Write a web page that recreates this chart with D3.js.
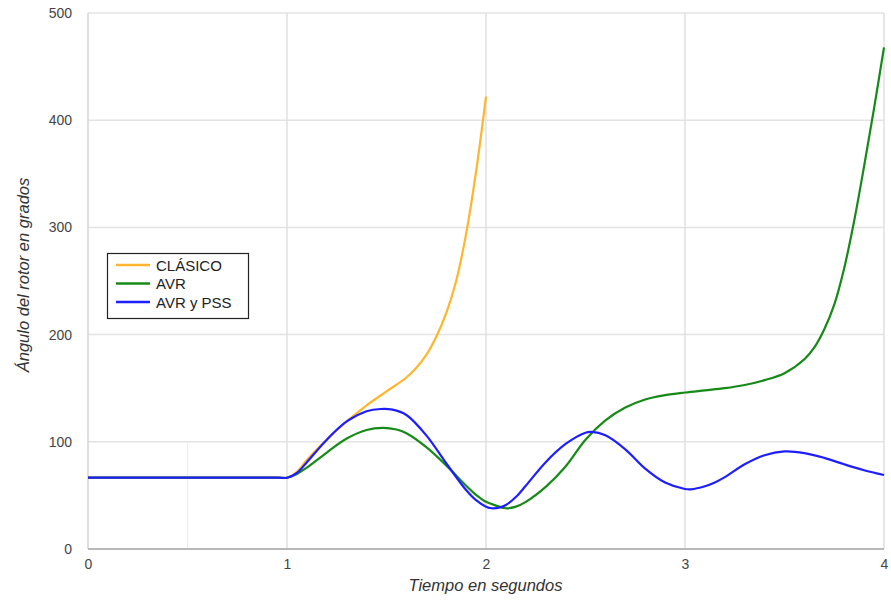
<!DOCTYPE html>
<html>
<head>
<meta charset="utf-8">
<script src="https://cdn.jsdelivr.net/npm/d3@7"></script>
<style>
  html, body { margin: 0; padding: 0; background: #fff; }
  svg { display: block; font-family: "Liberation Sans", Arial, sans-serif; }
</style>
</head>
<body>
<svg id="chart" width="891" height="602"></svg>
<script>
// Rotor angle (degrees) versus time (s) for three excitation setups
const clasicoT = [0, 0.95, 1, 1.05, 1.1, 1.2, 1.3, 1.4, 1.5, 1.6, 1.65, 1.7, 1.75, 1.8, 1.85, 1.9, 1.95, 2.0];
const clasicoV = [66.5, 66.5, 66.5, 72, 83, 102, 119, 134, 147, 160, 169, 181, 198, 220, 250, 294, 352, 422];

const avrT = [0, 0.95, 1, 1.05, 1.1, 1.2, 1.3, 1.4, 1.48, 1.55, 1.6, 1.7, 1.8, 1.9, 1.95, 2.0, 2.05, 2.1, 2.15, 2.2, 2.3, 2.4, 2.5, 2.6, 2.7, 2.8, 2.9, 3.0, 3.1, 3.2, 3.3, 3.4, 3.5, 3.6, 3.65, 3.7, 3.75, 3.8, 3.85, 3.9, 3.95, 4.0];
const avrV = [66.5, 66.5, 66.5, 70, 76, 90, 103, 111, 113, 111.5, 108, 95, 78, 59, 50.5, 44, 40.5, 38, 39.5, 44, 58, 77, 102, 120, 132, 139.5, 143.5, 146, 148, 150, 153, 157.5, 164, 177, 188, 205, 228, 262, 306, 357, 411, 468];

const pssT = [0, 0.95, 1, 1.05, 1.1, 1.2, 1.3, 1.4, 1.47, 1.53, 1.6, 1.7, 1.8, 1.9, 1.95, 2.0, 2.03, 2.07, 2.1, 2.15, 2.2, 2.3, 2.4, 2.5, 2.53, 2.6, 2.7, 2.8, 2.9, 3.0, 3.03, 3.1, 3.15, 3.2, 3.3, 3.4, 3.5, 3.6, 3.7, 3.8, 3.9, 4.0];
const pssV = [66.5, 66.5, 66.5, 71, 81, 102, 119, 128.5, 130.6, 130, 125, 106, 80, 55, 45.5, 39.5, 38, 38.8, 41, 48.5, 59, 81, 98, 108.5, 109.2, 106, 93, 75, 62, 56, 55.7, 58.5, 62, 67, 79, 87.5, 91, 89.5, 85, 79, 73.5, 69];

const seriesNames = ["CLÁSICO", "AVR", "AVR y PSS"];
const seriesColors = ["#FFB52C", "#168A16", "#1E1EFF"];
const xTicks = [0, 1, 2, 3, 4];
const yTicks = [0, 100, 200, 300, 400, 500];

const series = [
  { name: seriesNames[0], color: seriesColors[0], t: clasicoT, v: clasicoV },
  { name: seriesNames[1], color: seriesColors[1], t: avrT, v: avrV },
  { name: seriesNames[2], color: seriesColors[2], t: pssT, v: pssV }
];

const svg = d3.select("#chart");
const plotL = 88, plotR = 884, plotT = 13, plotB = 549;

const x = d3.scaleLinear().domain([0, 4]).range([plotL, plotR]);
const y = d3.scaleLinear().domain([0, 500]).range([plotB, plotT]);

// gridlines
const grid = svg.append("g");
grid.selectAll("line.h").data(yTicks.slice(1)).join("line")
  .attr("x1", plotL).attr("x2", plotR)
  .attr("y1", d => y(d)).attr("y2", d => y(d))
  .attr("stroke", "#e3e3e3").attr("stroke-width", 1.5);
grid.selectAll("line.v").data(xTicks.slice(1)).join("line")
  .attr("x1", d => x(d)).attr("x2", d => x(d))
  .attr("y1", plotT).attr("y2", plotB)
  .attr("stroke", "#e0e0e0").attr("stroke-width", 1.5);
// short minor grid segment at t = 0.5
grid.append("line")
  .attr("x1", x(0.5)).attr("x2", x(0.5))
  .attr("y1", y(100)).attr("y2", plotB)
  .attr("stroke", "#ececec").attr("stroke-width", 1.2);

// axes frame
svg.append("line").attr("x1", plotL).attr("x2", plotL).attr("y1", plotT).attr("y2", plotB)
  .attr("stroke", "#d4d4d4").attr("stroke-width", 1.5);
svg.append("line").attr("x1", plotL).attr("x2", plotR).attr("y1", plotB).attr("y2", plotB)
  .attr("stroke", "#b8b8b8").attr("stroke-width", 2);

// tick labels via axis generators
const yAxis = d3.axisLeft(y).tickValues(yTicks).tickSize(0).tickPadding(16).tickFormat(d3.format("d"));
const gy = svg.append("g").attr("transform", `translate(${plotL},0)`).call(yAxis);
gy.select(".domain").remove();
gy.selectAll("text").attr("font-size", 14).attr("fill", "#444").attr("font-family", "Liberation Sans, Arial, sans-serif");

const xAxis = d3.axisBottom(x).tickValues(xTicks).tickSize(0).tickPadding(10).tickFormat(d3.format("d"));
const gx = svg.append("g").attr("transform", `translate(0,${plotB})`).call(xAxis);
gx.select(".domain").remove();
gx.selectAll("text").attr("font-size", 14).attr("fill", "#444").attr("font-family", "Liberation Sans, Arial, sans-serif");

// axis titles
svg.append("text")
  .attr("x", (plotL + plotR) / 2 - 0.5).attr("y", 591)
  .attr("text-anchor", "middle").attr("font-style", "italic")
  .attr("font-size", 16.5).attr("fill", "#333")
  .text("Tiempo en segundos");
svg.append("text")
  .attr("transform", `translate(29,275) rotate(-90)`)
  .attr("text-anchor", "middle").attr("font-style", "italic")
  .attr("font-size", 16.5).attr("fill", "#333")
  .text("Ángulo del rotor en grados");

// series lines
const line = d3.line()
  .x(d => x(d[0])).y(d => y(d[1]))
  .curve(d3.curveCatmullRom.alpha(0.5));
svg.append("g").selectAll("path").data(series).join("path")
  .attr("d", s => line(s.t.map((t, i) => [t, s.v[i]])))
  .attr("fill", "none")
  .attr("stroke", s => s.color)
  .attr("stroke-width", 2.2)
  .attr("stroke-linejoin", "round");

// legend
const lg = svg.append("g");
lg.append("rect").attr("x", 107.5).attr("y", 253.5).attr("width", 141).attr("height", 65)
  .attr("fill", "#fff").attr("stroke", "#222").attr("stroke-width", 1.2);
const rows = lg.selectAll("g.row").data(series).join("g")
  .attr("transform", (d, i) => `translate(0,${265 + i * 18.5})`);
rows.append("line").attr("x1", 116).attr("x2", 150).attr("y1", 0).attr("y2", 0)
  .attr("stroke", d => d.color).attr("stroke-width", 2.5);
rows.append("text").attr("x", 156).attr("y", 5.5)
  .attr("font-size", 15).attr("fill", "#222")
  .text(d => d.name);
</script>
</body>
</html>
